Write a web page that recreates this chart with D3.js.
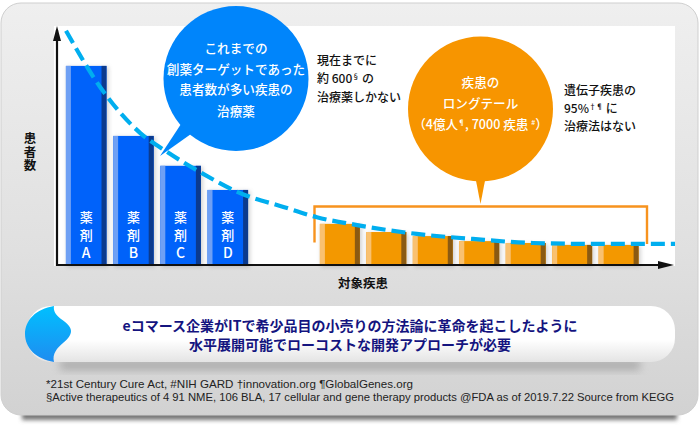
<!DOCTYPE html>
<html><head><meta charset="utf-8">
<script src="https://cdn.jsdelivr.net/npm/d3@7"></script>
<style>html,body{margin:0;padding:0;background:#fff}svg{display:block}text{font-family:"Noto Sans CJK JP","Noto Sans",sans-serif}</style>
</head><body><svg id="c" width="700" height="429"></svg>
<script>
const drugCategories = ["A","B","C","D"];
const drugValues = [83.3,54,41.5,31.4];
const diseaseCategories = ["d1","d2","d3","d4","d5","d6","d7"];
const diseaseValues = [17.2,13.8,12.1,10,9.2,8.4,8.4];
const curveRank = [0,5.6,12.2,16.6,22,28.6,35.7,41.2,47.8,57.6,66.8,76.7,87.7,100];
const curveValue = [98,74.5,55.2,47.3,38.9,30.1,24.3,20,16.7,13,10.9,9.2,8.8,8.8];
const xAxisLabel = "対象疾患";
const yAxisLabel = ["患","者","数"];
const blueText = ["これまでの","創薬ターゲットであった","患者数が多い疾患の","治療薬"];
const bannerText = ["eコマース企業がITで希少品目の小売りの方法論に革命を起こしたように","水平展開可能でローコストな開発アプローチが必要"];
const foot1 = "*21st Century Cure Act, #NIH GARD †innovation.org    ¶GlobalGenes.org";
const foot2 = "§Active therapeutics of 4 91 NME, 106 BLA, 17 cellular and gene therapy products @FDA as of 2019.7.22 Source from KEGG";

const svg = d3.select("#c");
const defs = svg.append("defs");
function grad(id,stops){const g=defs.append("linearGradient").attr("id",id).attr("x1",0).attr("y1",0).attr("x2",0).attr("y2",1);
 stops.forEach(([o,c])=>g.append("stop").attr("offset",o).attr("stop-color",c));}
grad("panel",[[0,"#efefef"],[0.6,"#e0e0e0"],[1,"#d2d2d2"]]);
grad("pill",[[0,"#ffffff"],[0.6,"#ffffff"],[1,"#e4e4e4"]]);
grad("blob",[[0,"#00c0ff"],[1,"#1f8cf0"]]);
const blur=(id,s)=>defs.append("filter").attr("id",id).attr("x","-20%").attr("y","-50%").attr("width","140%").attr("height","200%").append("feGaussianBlur").attr("stdDeviation",s);
blur("b2",2);blur("b4",4);

// panel
svg.append("rect").attr("x",22).attr("y",408).attr("width",655).attr("height",12).attr("fill","#777").attr("filter","url(#b2)");
svg.append("rect").attr("x",1).attr("y",3).attr("width",697).attr("height",412).attr("rx",20).attr("fill","url(#panel)").attr("stroke","#cfcfcf");
svg.append("rect").attr("x",54).attr("y",26).attr("width",621).attr("height",240).attr("fill","#fff");

const y = d3.scaleLinear().domain([0,100]).range([265,26]);
const xDrug = d3.scaleBand().domain(drugCategories).range([64.5,249.5]).paddingInner(0.14).paddingOuter(0.03);
const xDis = d3.scaleBand().domain(diseaseCategories).range([318.5,640]).paddingInner(0.14).paddingOuter(0.03);
const xRank = d3.scaleLinear().domain([0,100]).range([66,675]);

function bars(cat,val,x,cMain,cLight,cDark,cls){
 const g=svg.append("g").selectAll("g").data(cat.map((c,i)=>({c,v:val[i]}))).join("g");
 const bw=x.bandwidth();
 g.append("rect").attr("x",d=>x(d.c)+1).attr("y",d=>y(d.v)+1).attr("width",bw+1).attr("height",d=>y(0)-y(d.v)+1).attr("fill","#999").attr("opacity",.45).attr("filter","url(#b2)");
 g.append("rect").attr("x",d=>x(d.c)).attr("y",d=>y(d.v)).attr("width",bw).attr("height",d=>y(0)-y(d.v)).attr("fill",cMain);
 g.append("rect").attr("x",d=>x(d.c)).attr("y",d=>y(d.v)).attr("width",5).attr("height",d=>y(0)-y(d.v)).attr("fill",cLight);
 g.append("rect").attr("x",d=>x(d.c)+bw-5).attr("y",d=>y(d.v)).attr("width",5).attr("height",d=>y(0)-y(d.v)).attr("fill",cDark);
 return g;
}
const dg=bars(drugCategories,drugValues,xDrug,"#0062fa","#6fa0f4","#0b3a8e");
bars(diseaseCategories,diseaseValues,xDis,"#f39800","#f9c170","#8a5a12");
// drug labels
[["薬",222],["剤",240]].forEach(([t,yy])=>dg.append("text").attr("x",d=>xDrug(d.c)+xDrug.bandwidth()/2).attr("y",yy).attr("text-anchor","middle").attr("fill","#fff").attr("font-size",13).attr("font-weight",500).text(t));
dg.append("text").attr("x",d=>xDrug(d.c)+xDrug.bandwidth()/2).attr("y",258).attr("text-anchor","middle").attr("fill","#fff").attr("font-size",14).attr("font-weight",500).text(d=>d.c);

// axes
svg.append("path").attr("d","M57 30V265H662").attr("fill","none").attr("stroke","#111").attr("stroke-width",2.2);
svg.append("path").attr("d","M57 26L61 41H53Z M674 265L658 261V269Z").attr("fill","#111");

// bracket
svg.append("path").attr("d","M314.5 242.5V206.5H647V244").attr("fill","none").attr("stroke","#f7931e").attr("stroke-width",2.4);

// curve
const line=d3.line().x(d=>xRank(d[0])).y(d=>y(d[1])).curve(d3.curveMonotoneX);
svg.append("path").attr("d",line(curveRank.map((r,i)=>[r,curveValue[i]]))).attr("fill","none").attr("stroke","#00aeef").attr("stroke-width",4.2).attr("stroke-dasharray","14 6");

// callouts
svg.append("path").attr("d","M160 156L181 124L191 134Z").attr("fill","#0085fb");
svg.append("circle").attr("cx",236).attr("cy",78.5).attr("r",72.5).attr("fill","#0085fb");
svg.append("path").attr("d","M480.5 204L475.5 178H485.5Z").attr("fill","#f79500");
svg.append("circle").attr("cx",480.5).attr("cy",109).attr("r",72.5).attr("fill","#f79500");

function txt(s,x,yy,size,fill,anchor,w){return svg.append("text").attr("x",x).attr("y",yy).attr("font-size",size).attr("fill",fill).attr("text-anchor",anchor||"start").attr("font-weight",w||500).text(s);}
blueText.forEach((t,i)=>txt(t,236,[53,74,94,116][i],12.6,"#fff","middle"));
txt("疾患の",480.5,87,12.6,"#fff","middle");
txt("ロングテール",480.5,108,12.6,"#fff","middle");
const ot=txt("",480.5,129,12.6,"#fff","middle");
ot.append("tspan").text("（4億人");ot.append("tspan").text("¶").attr("font-size",7).attr("dy",-4);ot.append("tspan").text(", 7000 疾患 ").attr("dy",4);ot.append("tspan").text("#").attr("font-size",7).attr("dy",-4);ot.append("tspan").text("）").attr("dy",4);

function sup(x,yy,a,s,b){const t=txt("",x,yy,12,"#111");t.append("tspan").text(a);t.append("tspan").text(s).attr("font-size",7).attr("dy",-4);t.append("tspan").text(b).attr("dy",4);}
txt("現在までに",317,65,12,"#111");
sup(317,83,"約 600","§"," の");
txt("治療薬しかない",317,102,12,"#111");
txt("遺伝子疾患の",564,95,12,"#111");
sup(564,113,"95%","†¶"," に");
txt("治療法はない",564,131,12,"#111");

yAxisLabel.forEach((t,i)=>txt(t,30,[143,157,170][i],12.5,"#111","middle",700));
txt(xAxisLabel,363,288,12.5,"#111","middle",700);

// banner
svg.append("rect").attr("x",60).attr("y",360).attr("width",580).attr("height",10).attr("fill","#888").attr("opacity",.55).attr("filter","url(#b4)");
svg.append("rect").attr("x",27).attr("y",306).attr("width",648).attr("height",56).attr("rx",24).attr("fill","url(#pill)");
svg.append("path").attr("d","M54 306C36 309 25 320 25 334C25 348 36 359 54 362C52 354 57 348 63 343C68 339 71 335 71 331C71 327 67 323 61 319C56 315 53 311 54 306Z").attr("fill","url(#blob)");
bannerText.forEach((t,i)=>txt(t,350,[331,350][i],14,"#14147f","middle",700));

// foot
const f1=txt(foot1,46,388,10.5,"#222");f1.style("font-family","'Liberation Sans Narrow','Liberation Sans',sans-serif").attr("font-weight",400).attr("textLength",367).attr("lengthAdjust","spacingAndGlyphs");
const f2=txt(foot2,46,401,10.5,"#222");f2.style("font-family","'Liberation Sans Narrow','Liberation Sans',sans-serif").attr("font-weight",400).attr("textLength",628).attr("lengthAdjust","spacingAndGlyphs");
</script></body></html>
